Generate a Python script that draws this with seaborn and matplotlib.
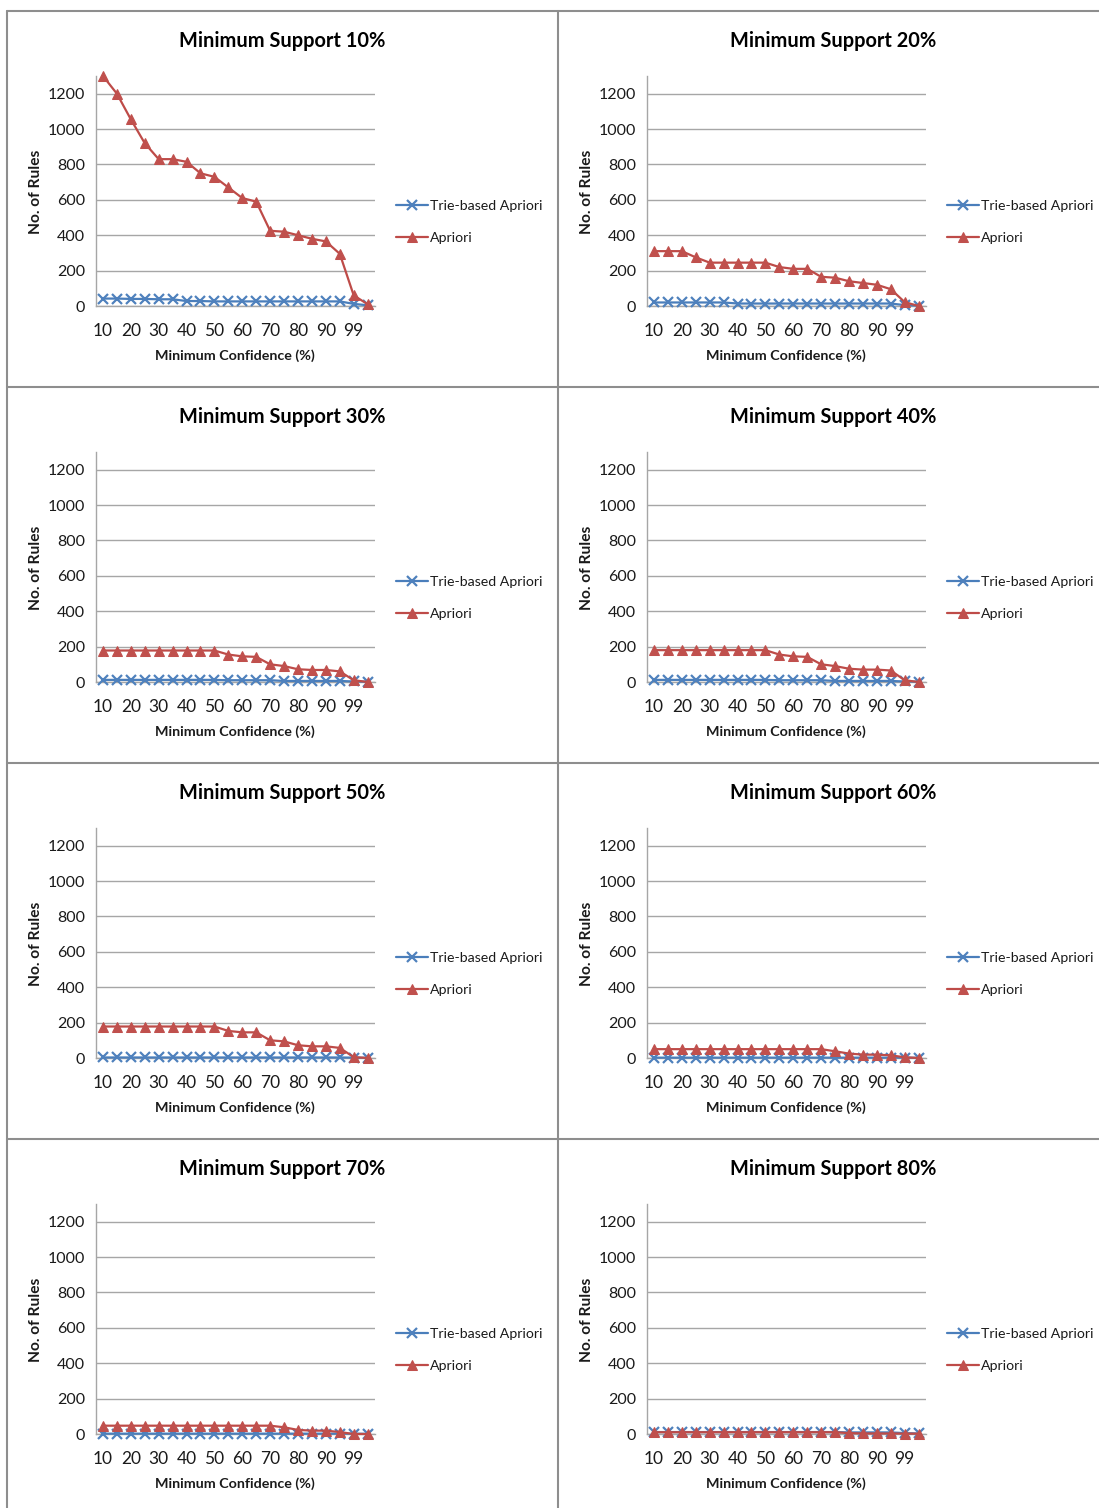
import numpy as np
import pandas as pd
import matplotlib
matplotlib.use("Agg")
import matplotlib.pyplot as plt
from matplotlib.lines import Line2D
import seaborn as sns

# ---------------- data ----------------
confidence = [10, 15, 20, 25, 30, 35, 40, 45, 50, 55, 60, 65, 70, 75, 80, 85, 90, 95, 99, 100]
supports = [10, 20, 30, 40, 50, 60, 70, 80]

apriori_10 = [1300, 1200, 1055, 920, 830, 830, 815, 750, 730, 670, 610, 590, 425, 420, 400, 380, 365, 295, 60, 10]
trie_10 = [42, 42, 40, 40, 38, 38, 28, 28, 26, 26, 26, 26, 26, 26, 26, 26, 26, 26, 12, 4]

apriori_20 = [310, 310, 310, 275, 245, 245, 245, 245, 245, 220, 210, 210, 165, 160, 140, 130, 120, 95, 22, 0]
trie_20 = [20, 20, 20, 20, 20, 20, 14, 14, 14, 14, 14, 14, 14, 14, 14, 14, 14, 14, 5, 2]

apriori_30 = [178, 178, 178, 178, 178, 178, 178, 178, 178, 155, 145, 142, 100, 90, 72, 68, 68, 60, 10, 0]
trie_30 = [12, 12, 12, 12, 12, 12, 12, 12, 12, 10, 10, 10, 10, 6, 6, 6, 6, 6, 3, 2]

apriori_40 = [180, 180, 180, 180, 180, 180, 180, 180, 180, 155, 145, 142, 100, 90, 75, 70, 70, 65, 10, 0]
trie_40 = [12, 12, 12, 12, 12, 12, 12, 12, 12, 10, 10, 10, 10, 6, 6, 6, 6, 6, 3, 2]

apriori_50 = [178, 178, 178, 178, 178, 178, 178, 178, 178, 153, 145, 145, 100, 94, 72, 66, 66, 57, 5, 0]
trie_50 = [3, 3, 3, 3, 3, 3, 3, 3, 3, 3, 3, 3, 3, 3, 3, 3, 3, 3, 2, 1]

apriori_60 = [50, 50, 50, 50, 50, 50, 50, 50, 50, 50, 50, 50, 50, 38, 25, 19, 19, 15, 4, 0]
trie_60 = [2, 2, 2, 2, 2, 2, 2, 2, 2, 2, 2, 2, 2, 2, 2, 2, 2, 2, 2, 1]

apriori_70 = [47, 47, 47, 47, 47, 47, 47, 47, 47, 47, 47, 47, 47, 38, 23, 19, 19, 11, 0, 0]
trie_70 = [2, 2, 2, 2, 2, 2, 2, 2, 2, 2, 2, 2, 2, 2, 2, 2, 2, 2, 2, 1]

apriori_80 = [10, 10, 10, 10, 10, 10, 10, 10, 10, 10, 10, 10, 10, 10, 5, 3, 3, 3, 2, 2]
trie_80 = [11, 11, 11, 11, 11, 11, 11, 11, 11, 11, 11, 11, 11, 11, 9, 9, 9, 9, 5, 3]

apriori_all = [apriori_10, apriori_20, apriori_30, apriori_40, apriori_50, apriori_60, apriori_70, apriori_80]
trie_all = [trie_10, trie_20, trie_30, trie_40, trie_50, trie_60, trie_70, trie_80]

y_ticks = [0, 200, 400, 600, 800, 1000, 1200]
series_names = ["Trie-based Apriori", "Apriori"]

# ---------------- style ----------------
sns.set_style("white")
FONT = ["Lato", "DejaVu Sans"]
plt.rcParams["font.family"] = FONT

W, H = 1099, 1508
fig = plt.figure(figsize=(W / 100, H / 100), dpi=100)

BLUE = "#4A7EBB"
BLUE_M = "#4F81BD"
RED = "#BE4B48"
RED_M = "#C0504D"
FRAME = "#8E8E8E"
GRID = "#A6A6A6"
TXT = "#1a1a1a"

cell_w, cell_h = 551, 376
ox, oy = 7, 11

cat_idx = np.arange(len(confidence))

for i, sup in enumerate(supports):
    row, col = divmod(i, 2)
    cx = ox + col * cell_w
    cy = oy + row * cell_h
    left, right = cx + 89, cx + 367.6
    top, bottom = cy + 65, cy + 295
    ax = fig.add_axes([left / W, 1 - bottom / H, (right - left) / W, (bottom - top) / H])

    df = pd.DataFrame({"idx": np.concatenate([cat_idx, cat_idx]),
                       "rules": trie_all[i] + apriori_all[i],
                       "series": [series_names[0]] * len(cat_idx) + [series_names[1]] * len(cat_idx)})
    sub_t = df[df.series == series_names[0]]
    sub_a = df[df.series == series_names[1]]
    sns.lineplot(data=sub_t, x="idx", y="rules", ax=ax, color=BLUE, linewidth=1.6,
                 marker="x", markersize=7.5, markeredgewidth=1.6, markeredgecolor=BLUE_M,
                 label=series_names[0], clip_on=False, zorder=3)
    sns.lineplot(data=sub_a, x="idx", y="rules", ax=ax, color=RED, linewidth=1.6,
                 marker="^", markersize=7.5, markeredgecolor=RED_M, markerfacecolor=RED_M,
                 label=series_names[1], clip_on=False, zorder=4)

    ax.set_xlim(-0.5, len(confidence) - 0.5)
    ax.set_ylim(0, 1300)
    ax.set_yticks(y_ticks)
    ax.set_yticklabels([str(v) for v in y_ticks])
    ax.set_xticks(cat_idx[::2])
    ax.set_xticklabels([str(c) for c in confidence[::2]])
    ax.tick_params(axis="both", length=0, colors=TXT)
    ax.tick_params(axis="y", pad=8, labelsize=11.5)
    ax.tick_params(axis="x", pad=12, labelsize=12.5)
    ax.grid(axis="y", color=GRID, linewidth=1.0)
    ax.grid(axis="x", visible=False)
    ax.set_axisbelow(True)
    for s in ["top", "right"]:
        ax.spines[s].set_visible(False)
    for s in ["left", "bottom"]:
        ax.spines[s].set_color(GRID)
        ax.spines[s].set_linewidth(1.0)
    ax.set_xlabel("")
    ax.set_ylabel("")

    # titles and labels
    fig.text((cx + 275) / W, 1 - (cy + 30) / H, f"Minimum Support {sup}%",
             ha="center", va="center", fontsize=14.4, fontweight="bold", color="#000000")
    fig.text((cx + 29) / W, 1 - (cy + 181) / H, "No. of Rules", rotation=90,
             ha="center", va="center", fontsize=11.2, fontweight="bold", color=TXT)
    fig.text((cx + 228) / W, 1 - (cy + 345) / H, "Minimum Confidence (%)",
             ha="center", va="center", fontsize=10.3, fontweight="bold", color=TXT)

    leg = ax.legend(loc="center left",
                    bbox_to_anchor=((cx + 389) / W, 1 - (cy + 211) / H),
                    bbox_transform=fig.transFigure, frameon=False, fontsize=10.2,
                    handlelength=2.25, handletextpad=0.15, labelspacing=1.45,
                    numpoints=1, borderaxespad=0, borderpad=0)
    for t in leg.get_texts():
        t.set_color(TXT)

# panel frames
for c in range(3):
    x = ox + c * cell_w
    fig.add_artist(Line2D([x / W, x / W], [1 - oy / H, 0], transform=fig.transFigure,
                          color=FRAME, linewidth=1.5))
for r in range(5):
    y = oy + r * cell_h
    fig.add_artist(Line2D([ox / W, 1], [1 - y / H, 1 - y / H], transform=fig.transFigure,
                          color=FRAME, linewidth=1.5))

fig.savefig("out.png", dpi=100)
